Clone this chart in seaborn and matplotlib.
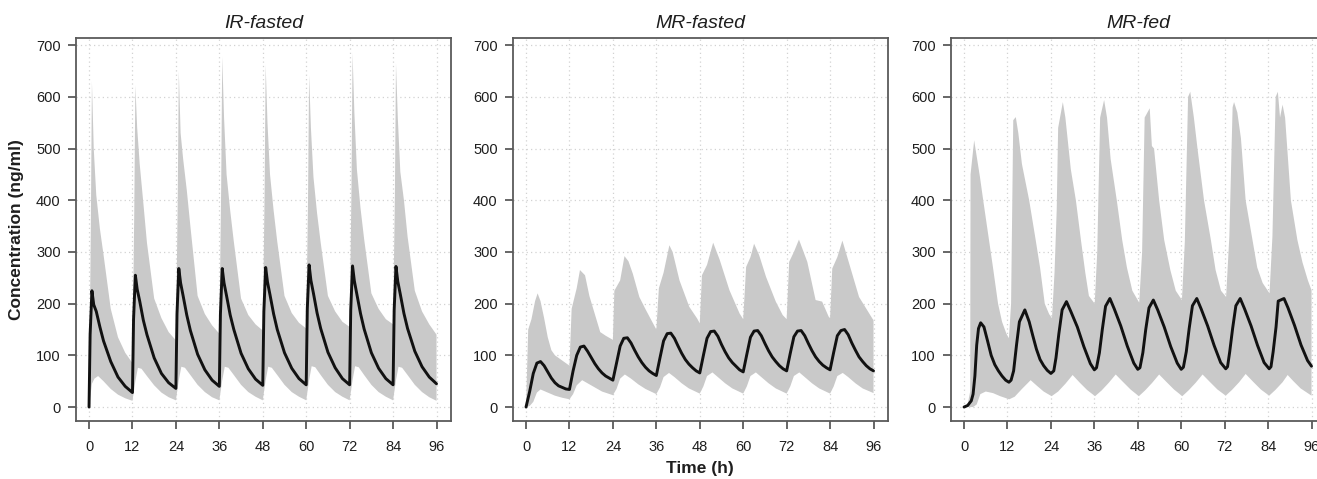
import numpy as np
import matplotlib
matplotlib.use("Agg")
import matplotlib.pyplot as plt
import seaborn as sns

# ---------------- data ----------------
panel_titles = ["IR-fasted", "MR-fasted", "MR-fed"]
x_ticks = [0, 12, 24, 36, 48, 60, 72, 84, 96]
y_ticks = [0, 100, 200, 300, 400, 500, 600, 700]

# IR-fasted
ir_med_t = [0, 0.3, 0.8, 1.3, 2, 3, 4, 6, 8, 10, 12,
            12.3, 12.8, 13.3, 14, 15, 16, 18, 20, 22, 24,
            24.3, 24.8, 25.3, 26, 27, 28, 30, 32, 34, 36,
            36.3, 36.8, 37.3, 38, 39, 40, 42, 44, 46, 48,
            48.3, 48.8, 49.3, 50, 51, 52, 54, 56, 58, 60,
            60.3, 60.8, 61.3, 62, 63, 64, 66, 68, 70, 72,
            72.3, 72.8, 73.3, 74, 75, 76, 78, 80, 82, 84,
            84.3, 84.8, 85.3, 86, 87, 88, 90, 92, 94, 96]
ir_med = [0, 140, 225, 198, 185, 155, 128, 88, 58, 40, 28,
          170, 255, 228, 205, 168, 140, 95, 65, 47, 36,
          180, 268, 240, 215, 178, 148, 102, 72, 52, 40,
          180, 268, 240, 215, 178, 150, 104, 74, 54, 42,
          185, 270, 242, 217, 180, 150, 105, 75, 55, 43,
          190, 275, 245, 220, 182, 152, 106, 76, 55, 43,
          188, 273, 244, 218, 181, 151, 105, 75, 55, 43,
          188, 272, 243, 218, 181, 152, 108, 78, 58, 45]
ir_hi_t = [0, 0.5, 0.8, 1.3, 2, 3, 4, 6, 8, 10, 12,
           12.5, 12.8, 13.3, 14, 15, 16, 18, 20, 22, 24,
           24.5, 24.8, 25.3, 26, 27, 28, 30, 32, 34, 36,
           36.5, 36.8, 37.3, 38, 39, 40, 42, 44, 46, 48,
           48.5, 48.8, 49.3, 50, 51, 52, 54, 56, 58, 60,
           60.5, 60.8, 61.3, 62, 63, 64, 66, 68, 70, 72,
           72.5, 72.8, 73.3, 74, 75, 76, 78, 80, 82, 84,
           84.5, 84.8, 85.3, 86, 87, 88, 90, 92, 94, 96]
ir_hi = [0, 350, 630, 500, 410, 345, 295, 190, 135, 105, 85,
         380, 622, 540, 470, 395, 318, 210, 172, 145, 129,
         400, 650, 530, 480, 420, 350, 215, 180, 158, 142,
         420, 678, 560, 450, 380, 320, 210, 178, 160, 148,
         410, 662, 550, 450, 380, 320, 215, 182, 163, 152,
         400, 642, 540, 445, 375, 318, 215, 185, 165, 155,
         420, 685, 570, 460, 385, 325, 220, 190, 170, 160,
         410, 665, 560, 455, 400, 330, 225, 185, 160, 140]
ir_lo_t = [0, 0.8, 1.5, 2.5, 4, 6, 8, 10, 12,
           12.8, 13.5, 14.5, 16, 18, 20, 22, 24,
           24.8, 25.5, 26.5, 28, 30, 32, 34, 36,
           36.8, 37.5, 38.5, 40, 42, 44, 46, 48,
           48.8, 49.5, 50.5, 52, 54, 56, 58, 60,
           60.8, 61.5, 62.5, 64, 66, 68, 70, 72,
           72.8, 73.5, 74.5, 76, 78, 80, 82, 84,
           84.8, 85.5, 86.5, 88, 90, 92, 94, 96]
ir_lo = [0, 45, 55, 60, 50, 35, 24, 17, 12,
         50, 76, 74, 60, 42, 28, 19, 13,
         52, 78, 76, 62, 43, 29, 19, 13,
         52, 78, 76, 62, 43, 29, 20, 13,
         52, 78, 76, 62, 43, 29, 20, 13,
         52, 79, 77, 62, 43, 29, 20, 13,
         52, 79, 77, 62, 43, 29, 20, 13,
         52, 78, 76, 62, 43, 29, 19, 12]

# MR-fasted
mrf_med_t = list(range(0, 97))
mrf_med = [0, 30, 65, 85, 88, 80, 68, 56, 47, 41, 38, 35,
           34, 70, 100, 116, 118, 108, 96, 84, 74, 66, 60, 56,
           52, 85, 118, 133, 134, 124, 110, 97, 86, 77, 70, 65,
           61, 95, 128, 142, 143, 133, 118, 104, 92, 83, 76, 70,
           66, 100, 133, 146, 147, 137, 121, 107, 95, 86, 79, 72,
           68, 102, 135, 147, 148, 138, 123, 109, 97, 88, 80, 74,
           70, 104, 136, 147, 148, 138, 123, 109, 97, 88, 81, 76,
           72, 106, 138, 148, 150, 140, 124, 110, 97, 88, 80, 74,
           70]
mrf_hi_t = [0, 0.6, 1.5, 2.5, 3.2, 4, 5, 6, 7, 8, 10, 12,
            12.6, 14, 14.9, 16.3, 17.5, 19, 20.5, 22, 24,
            24.4, 26, 27.2, 28.3, 29.5, 31.3, 33.1, 36,
            36.7, 38, 39.6, 40.5, 42.4, 45.1, 47.3, 48,
            48.6, 50, 51.7, 53.5, 56.2, 59, 60,
            60.8, 62, 63, 64.4, 66.3, 69, 70.9, 72,
            72.7, 74, 75.4, 77.7, 80, 81.8, 83.6, 84,
            84.6, 86, 87.4, 89.3, 92, 95.7, 96]
mrf_hi = [0, 150, 170, 205, 220, 205, 172, 135, 110, 100, 90, 80,
          190, 230, 265, 255, 215, 180, 145, 138, 130,
          225, 245, 292, 282, 258, 213, 188, 150,
          230, 260, 313, 300, 245, 194, 171, 162,
          255, 275, 318, 285, 226, 181, 170,
          271, 290, 316, 294, 252, 204, 178, 170,
          281, 300, 324, 281, 207, 204, 175, 172,
          268, 290, 322, 277, 213, 171, 168]
mrf_lo_t = [0, 1, 2, 3, 4, 6, 8, 10, 12,
            13, 14, 15.5, 17, 19, 21, 24,
            25, 26, 27.3, 29, 31, 33, 36,
            37, 38, 39.5, 41, 43, 45, 48,
            49, 50, 51.5, 53, 55, 57, 60,
            61, 62, 63.5, 65, 67, 69, 72,
            73, 74, 75.5, 77, 79, 81, 84,
            85, 86, 87.5, 89, 91, 93, 96]
mrf_lo = [0, 2, 10, 28, 34, 28, 22, 18, 15,
          25, 42, 52, 46, 38, 30, 23,
          35, 55, 63, 55, 44, 35, 25,
          38, 58, 66, 58, 46, 36, 26,
          40, 60, 67, 58, 46, 36, 26,
          40, 60, 67, 58, 46, 36, 26,
          40, 60, 67, 58, 46, 36, 26,
          40, 60, 66, 58, 46, 36, 27]

# MR-fed
fed_med_t = [0, 1, 2, 2.5, 3, 3.5, 4, 4.6, 5.5, 6.5, 7.5, 8.5, 9.5, 10.5, 11.5, 12.4,
             13, 13.7, 14.5, 15.3, 16.8, 18, 19, 20, 21, 22, 23, 24,
             24.8, 25.4, 26.2, 27.1, 28.3, 29.5, 31.3, 33.1, 34.9, 36,
             36.6, 37.4, 38.2, 39.1, 40.3, 41.5, 43.3, 45.1, 46.9, 48,
             48.6, 49.4, 50.2, 51.1, 52.3, 53.5, 55.3, 57.1, 58.9, 60,
             60.6, 61.4, 62.2, 63.1, 64.3, 65.5, 67.3, 69.1, 70.9, 72.3,
             72.8, 73.4, 74.2, 75.1, 76.3, 77.5, 79.3, 81.1, 82.9, 84.3,
             84.8, 85.4, 86.2, 86.8, 88.4, 89.5, 91.3, 93.1, 94.9, 96]
fed_med = [0, 3, 12, 25, 60, 120, 152, 163, 155, 128, 100, 82, 70, 60, 52, 48,
           52, 70, 120, 165, 188, 165, 138, 112, 92, 80, 71, 65,
           70, 95, 142, 188, 204, 185, 155, 117, 84, 72,
           76, 105, 150, 195, 210, 190, 157, 118, 85, 73,
           76, 105, 150, 192, 207, 188, 155, 117, 85, 73,
           77, 107, 152, 196, 210, 190, 157, 119, 86, 74,
           78, 107, 152, 196, 210, 190, 157, 119, 86, 74,
           78, 107, 155, 205, 210, 192, 158, 120, 90, 79]
fed_hi_t = [0, 1, 1.7, 1.8, 2.8, 4.4, 5.3, 6.9, 8, 9.4, 10.5, 11.7, 12.4,
            13.0, 13.6, 14.3, 15, 16, 18, 19.8, 21, 22.3, 23.5, 24.3,
            25.0, 25.6, 26, 27.3, 28, 29.5, 30.9, 32.3, 33.5, 34.5, 36.1,
            36.8, 37.6, 38.7, 39.5, 40.5, 42.2, 43.7, 45, 46.5, 48.4,
            49.2, 49.9, 51.3, 51.9, 52.5, 53.9, 55.3, 57, 58.5, 60.2,
            61.0, 61.9, 62.5, 63.5, 64.5, 66.3, 68.2, 69.5, 71, 72.4,
            73.3, 74.2, 74.6, 75.5, 76.5, 77.8, 79.7, 81, 82.5, 84.4,
            85.2, 86.1, 86.7, 87.3, 88, 88.7, 90.3, 92.1, 93.5, 95, 96]
fed_hi = [0, 5, 30, 450, 516, 445, 400, 323, 270, 200, 165, 142, 133,
          200, 555, 561, 530, 470, 400, 323, 270, 200, 180, 172,
          260, 380, 540, 590, 560, 460, 400, 323, 260, 215, 200,
          300, 560, 594, 560, 480, 400, 323, 270, 225, 202,
          300, 560, 578, 505, 500, 400, 323, 265, 225, 207,
          320, 600, 610, 560, 500, 400, 323, 265, 225, 213,
          330, 580, 590, 570, 520, 400, 323, 270, 240, 220,
          330, 600, 610, 560, 585, 560, 400, 323, 280, 245, 226]
fed_lo_t = [0, 2.5, 3.5, 4.5, 6, 8, 10, 12.5,
            14, 16, 18.4, 20, 22, 24.2,
            26, 28, 30, 32, 34, 36.2,
            38, 40, 41.9, 44, 46, 48.3,
            50, 52, 53.9, 56, 58, 60.3,
            62, 64, 65.9, 68, 70, 72.3,
            74, 76, 77.8, 80, 82, 84.3,
            86, 88, 89.4, 91, 93, 96]
fed_lo = [0, 0, 5, 25, 30, 27, 21, 15,
          20, 35, 52, 42, 30, 21,
          30, 45, 62, 47, 33, 21,
          32, 47, 63, 48, 34, 21,
          32, 47, 63, 48, 34, 21,
          32, 47, 63, 48, 34, 22,
          33, 48, 64, 48, 34, 22,
          33, 48, 62, 50, 36, 22]

panels = [
    (ir_med_t, ir_med, ir_hi_t, ir_hi, ir_lo_t, ir_lo),
    (mrf_med_t, mrf_med, mrf_hi_t, mrf_hi, mrf_lo_t, mrf_lo),
    (fed_med_t, fed_med, fed_hi_t, fed_hi, fed_lo_t, fed_lo),
]

# ---------------- style ----------------
sns.set_style("white")
plt.rcParams["font.family"] = ["Liberation Sans", "DejaVu Sans"]

W, H = 1317, 479
fig = plt.figure(figsize=(W / 100, H / 100), dpi=100)

lefts = [76, 513, 951]
ax_w, ax_top, ax_bot = 375, 38, 421
spine_col = "#5a5a5a"

for i, (left, title, data) in enumerate(zip(lefts, panel_titles, panels)):
    mt, mv, ht, hv, lt, lv = data
    ax = fig.add_axes([left / W, 1 - ax_bot / H, ax_w / W, (ax_bot - ax_top) / H])
    poly_x = np.concatenate([np.asarray(ht, float), np.asarray(lt, float)[::-1]])
    poly_y = np.concatenate([np.asarray(hv, float), np.asarray(lv, float)[::-1]])
    ax.fill(poly_x, poly_y, color="#c9c9c9", lw=0, zorder=2)
    sns.lineplot(x=mt, y=mv, ax=ax, color="#111111", lw=2.1, sort=False,
                 estimator=None, zorder=3)
    ax.set_xlim(-3.6, 100)
    ax.set_ylim(-27, 714)
    ax.set_xticks(x_ticks)
    ax.set_yticks(y_ticks)
    ax.set_xticklabels([str(v) for v in x_ticks])
    ax.set_yticklabels([str(v) for v in y_ticks])
    ax.grid(True, linestyle=(0, (1, 2.5)), color="#d2d2d2", lw=0.9, zorder=0)
    ax.set_axisbelow(True)
    for sp in ax.spines.values():
        sp.set_color(spine_col)
        sp.set_linewidth(1.3)
        sp.set_visible(True)
    ax.tick_params(axis="both", direction="out", length=6, width=1.3,
                   color=spine_col, labelcolor="#1e1e1e", labelsize=10.5,
                   bottom=True, left=True)
    ax.tick_params(axis="x", pad=8)
    ax.tick_params(axis="y", pad=5)
    ax.set_xlabel("")
    ax.set_ylabel("")
    ax.set_title(title, fontsize=14, fontstyle="italic", color="#1e1e1e", pad=7)

fig.text(17 / W, 1 - 230 / H, "Concentration (ng/ml)", rotation=90,
         ha="center", va="center", fontsize=12.5, fontweight="bold", color="#1e1e1e")
fig.text(700 / W, 1 - 469 / H, "Time (h)", ha="center", va="center",
         fontsize=12.5, fontweight="bold", color="#1e1e1e")

fig.savefig("out.png", dpi=100)
